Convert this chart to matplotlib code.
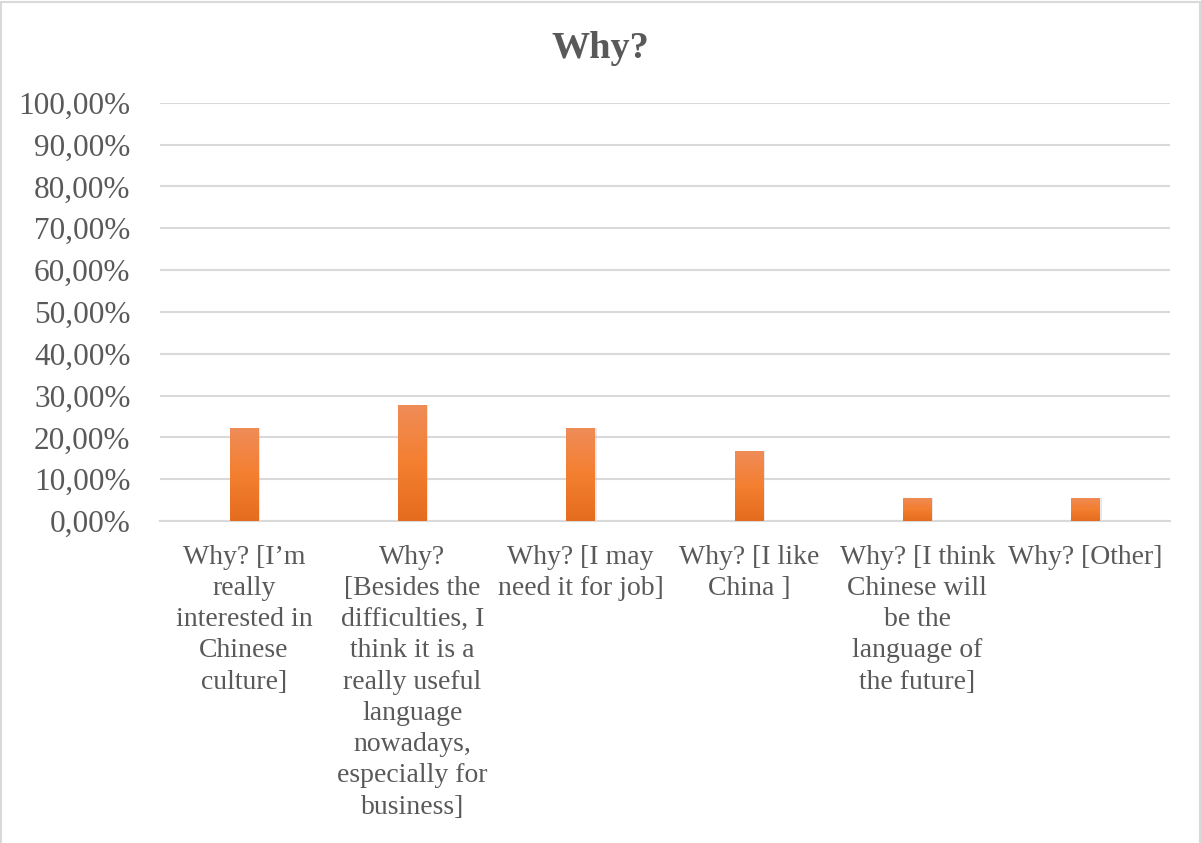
import matplotlib.pyplot as plt
import numpy as np
from matplotlib.colors import LinearSegmentedColormap
from matplotlib.patches import Rectangle

# survey answers (share of respondents)
categories = [
    "Why? [I\u2019m\nreally\ninterested in\nChinese\nculture]",
    "Why?\n[Besides the\ndifficulties, I\nthink it is a\nreally useful\nlanguage\nnowadays,\nespecially for\nbusiness]",
    "Why? [I may\nneed it for job]",
    "Why? [I like\nChina ]",
    "Why? [I think\nChinese will\nbe the\nlanguage of\nthe future]",
    "Why? [Other]",
]
shares = [0.2222, 0.2778, 0.2222, 0.1667, 0.0556, 0.0556]
yticks = np.arange(0, 1.01, 0.1)

plt.rcParams["font.family"] = ["Liberation Serif", "DejaVu Serif"]
text_color = "#595959"
grid_color = "#D9D9D9"

fig = plt.figure(figsize=(12.01, 8.43), dpi=100)
# chart border, open at the bottom (cut off in the original)
fig.patches.append(
    Rectangle((0.001, -0.05), 0.998, 1.048, transform=fig.transFigure,
              fill=False, edgecolor=grid_color, linewidth=1.5)
)
ax = fig.add_axes([0.133, 0.382, 0.841, 0.496])

x = np.arange(len(categories))
bars = ax.bar(x, shares, width=0.17, color="#ED7D31", zorder=3)

# vertical gradient like the office chart style
grad = LinearSegmentedColormap.from_list("g", ["#E46C1E", "#F47F30", "#EF8C58"])
gimg = np.linspace(0, 1, 256).reshape(-1, 1)
for b in bars:
    # soft shadow
    sh = Rectangle((b.get_x() + 0.01, 0), b.get_width(), b.get_height(),
                   facecolor="#BFBFBF", alpha=0.35, edgecolor="none", zorder=2)
    ax.add_patch(sh)
    im = ax.imshow(gimg, cmap=grad, aspect="auto", origin="lower",
                   extent=(b.get_x(), b.get_x() + b.get_width(), 0, b.get_height()),
                   zorder=4)
    im.set_clip_path(b)

ax.set_xlim(-0.5, len(categories) - 0.5)
ax.set_ylim(0, 1.0)
ax.set_yticks(yticks)
ax.set_yticklabels([f"{v * 100:.2f}%".replace(".", ",") for v in yticks])
ax.set_xticks(x)
ax.set_xticklabels(categories, linespacing=1.33)
ax.tick_params(axis="both", length=0, colors=text_color)
ax.tick_params(axis="x", pad=17, labelsize=20)
ax.tick_params(axis="y", pad=21, labelsize=22.5)
ax.yaxis.grid(True, color=grid_color, linewidth=1.5, zorder=0)
ax.set_axisbelow(True)
for s in ["top", "right", "left"]:
    ax.spines[s].set_visible(False)
ax.spines["bottom"].set_color(grid_color)
ax.spines["bottom"].set_linewidth(1.5)

fig.text(0.5, 0.942, "Why?", ha="center", va="center", fontsize=27.5,
         fontweight="bold", color=text_color)

fig.savefig("out.png", dpi=100)
